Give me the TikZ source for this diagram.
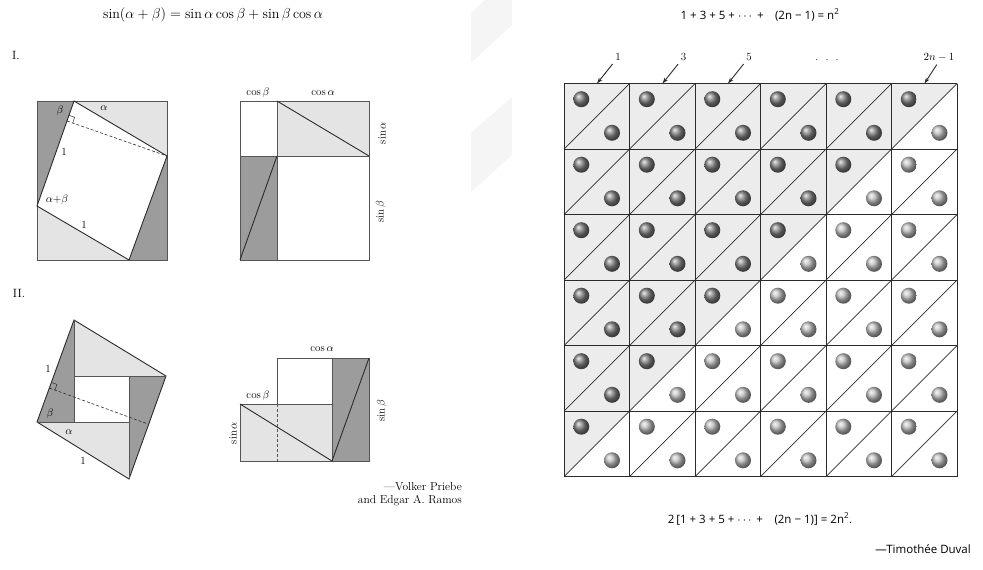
\documentclass[tikz,border=0pt]{standalone}
\usepackage{fontspec}
\usepackage{amsmath}
\usepackage{tikz}
\usetikzlibrary{arrows.meta, positioning}
\newfontfamily\sumfont{Open Sans}
\definecolor{ShadeDark}{HTML}{9C9C9C}
\definecolor{ShadePale}{HTML}{E4E4E4}
\definecolor{GridPale}{HTML}{ECECEC}
\definecolor{InkLine}{HTML}{2B2B2B}
\definecolor{FrameLine}{HTML}{555555}
\definecolor{Watermark}{HTML}{F5F5F5}

\begin{document}
\begin{tikzpicture}[x=1pt, y=-1pt,
  frame/.style={FrameLine, line width=0.9pt},
  rimline/.style={InkLine, line width=0.9pt},
  altitude/.style={InkLine, dash pattern=on 3pt off 2pt, line width=0.6pt},
  cellline/.style={InkLine, line width=0.7pt},
  pointer/.style={InkLine, line width=0.9pt, shorten <=4pt, -{Stealth[length=6pt, width=4pt]}},
  lbl/.style={inner sep=0pt, font=\fontsize{11}{13}\selectfont},
  toplbl/.style={inner sep=0pt, font=\fontsize{11}{13}\selectfont},
  sumtxt/.style={inner sep=0pt, font=\sumfont\fontsize{11.5}{13}\selectfont}]
  \useasboundingbox (0,0) rectangle (983,570);
  % Watermark
  \fill[Watermark] (471,13) -- (485,0) -- (512,0) -- (512,25) -- (471,63) -- cycle;
  \fill[Watermark] (471,133) -- (512,97) -- (512,155) -- (471,192) -- cycle;

  % Title and part labels
  \node[lbl, font=\fontsize{14}{16}\selectfont] (sinsum) at (213,15)
    {$\sin(\alpha+\beta)=\sin\alpha\cos\beta+\sin\beta\cos\alpha$};
  \node[lbl, font=\fontsize{12}{14}\selectfont] (partone) at (16,55) {I.};
  \node[lbl, font=\fontsize{12}{14}\selectfont] (parttwo) at (19,293) {II.};

  % I. rhombus inside the rectangle
  \coordinate (ta) at (74,101);
  \coordinate (ra) at (167,156);
  \coordinate (ba) at (129,260);
  \coordinate (la) at (37,206);
  \fill[ShadeDark] (37,101) -- (ta) -- (la) -- cycle;
  \fill[ShadeDark] (ra) -- (167,260) -- (ba) -- cycle;
  \fill[ShadePale] (ta) -- (167,101) -- (ra) -- cycle;
  \fill[ShadePale] (la) -- (ba) -- (37,260) -- cycle;
  \draw[frame] (37,101) rectangle (167,260);
  \draw[rimline] (ta) -- (ra) -- (ba) -- (la) -- cycle;
  \coordinate (fa) at (67,121);
  \draw[altitude] (fa) -- (ra);
  \draw[InkLine, line width=0.5pt] (69,115.3) -- (74.6,117.3) -- (72.7,123);
  \node[lbl] (betaa) at (60,111) {$\beta$};
  \node[lbl] (alphaa) at (104,108) {$\alpha$};
  \node[lbl] (onea) at (64,152) {1};
  \node[lbl] (suma) at (57,200) {$\alpha{+}\beta$};
  \node[lbl] (oneb) at (84,225) {1};

  % I. rearranged rectangles
  \fill[ShadePale] (277,101) rectangle (369,156);
  \fill[ShadeDark] (240,156) rectangle (277,260);
  \draw[frame] (240,101) rectangle (369,260);
  \draw[frame] (277,101) -- (277,260);
  \draw[frame] (240,156) -- (369,156);
  \draw[rimline] (277,101) -- (369,156);
  \draw[rimline] (240,260) -- (277,156);
  \node[lbl] (cosba) at (258,93) {$\cos\beta$};
  \node[lbl] (cosaa) at (323,93) {$\cos\alpha$};
  \node[lbl, rotate=90] (sinaa) at (382,133) {$\sin\alpha$};
  \node[lbl, rotate=90] (sinba) at (381,212) {$\sin\beta$};

  % II. rhombus cut around a hole
  \coordinate (tb) at (74,320);
  \coordinate (rb) at (166,376);
  \coordinate (bb) at (129,479);
  \coordinate (lb) at (37,422);
  \fill[ShadeDark] (tb) -- (74,422) -- (lb) -- cycle;
  \fill[ShadeDark] (rb) -- (bb) -- (129,376) -- cycle;
  \fill[ShadePale] (tb) -- (rb) -- (74,376) -- cycle;
  \fill[ShadePale] (lb) -- (bb) -- (129,422) -- cycle;
  \draw[rimline] (tb) -- (rb) -- (bb) -- (lb) -- cycle;
  \draw[frame] (tb) -- (74,422);
  \draw[frame] (74,376) -- (rb);
  \draw[frame] (129,376) -- (129,479);
  \draw[frame] (lb) -- (129,422);
  \draw[altitude] (49.3,388) -- (148,424);
  \draw[InkLine, line width=0.5pt] (51.4,382.4) -- (57,384.4) -- (54.9,390);
  \node[lbl] (onec) at (48,369) {1};
  \node[lbl] (betab) at (50,414) {$\beta$};
  \node[lbl] (alphab) at (69,432) {$\alpha$};
  \node[lbl] (oned) at (83,461) {1};

  % II. rearranged rectangles
  \fill[ShadeDark] (332,358) rectangle (369,461);
  \fill[ShadePale] (240,404) rectangle (332,461);
  \draw[frame] (277,358) rectangle (332,404);
  \draw[frame] (332,358) rectangle (369,461);
  \draw[frame] (240,404) rectangle (332,461);
  \draw[rimline] (332,461) -- (369,358);
  \draw[rimline] (240,404) -- (332,461);
  \draw[altitude, FrameLine] (277,404) -- (277,461);
  \node[lbl] (cosab) at (322,349) {$\cos\alpha$};
  \node[lbl] (cosbb) at (258,396) {$\cos\beta$};
  \node[lbl, rotate=90] (sinab) at (233,433) {$\sin\alpha$};
  \node[lbl, rotate=90] (sinbb) at (382,411) {$\sin\beta$};

  \node[lbl, anchor=east, font=\fontsize{11.5}{13}\selectfont] (authora) at (462,487) {---Volker Priebe};
  \node[lbl, anchor=east, font=\fontsize{11.5}{13}\selectfont] (authorb) at (462,501) {and Edgar A. Ramos};

  % Right: odd numbers as triangles
  \node[sumtxt] (oddsum) at (760,15)
    {1 + 3 + 5 + $\cdots$ +\quad(2n − 1) = n\textsuperscript{2}};
  \fill[GridPale] (564,83.5) -- (957,83.5) -- (564,476.5) -- cycle;
  \foreach \c in {0,...,5}{
    \foreach \r in {0,...,5}{
      \draw[cellline] (564+65.5*\c,149+65.5*\r) -- (629.5+65.5*\c,83.5+65.5*\r);
      \ifnum\numexpr\c+\r\relax<6 \def\upcol{black!50}\else\def\upcol{black!25}\fi
      \ifnum\numexpr\c+\r\relax<5 \def\lowcol{black!50}\else\def\lowcol{black!25}\fi
      \shade[ball color=\upcol] (581.3+65.5*\c,99.2+65.5*\r) circle[radius=8];
      \shade[ball color=\lowcol] (612+65.5*\c,132.8+65.5*\r) circle[radius=8];
    }
  }
  \foreach \k in {0,...,6}{
    \draw[cellline] (564+65.5*\k,83.5) -- (564+65.5*\k,476.5);
    \draw[cellline] (564,83.5+65.5*\k) -- (957,83.5+65.5*\k);
  }
  % Column labels
  \coordinate (tipa) at (597,83.5);
  \coordinate (tipb) at (662.5,83.5);
  \coordinate (tipc) at (728,83.5);
  \coordinate (tipn) at (924.5,83.5);
  \node[toplbl] (laba) at (618,57) {1};
  \node[toplbl] (labb) at (683.5,57) {3};
  \node[toplbl] (labc) at (749,57) {5};
  \node[toplbl] (labdots) at (827,60) {.\ \ .\ \ .};
  \node[toplbl] (labn) at (939,57) {$2n-1$};
  \draw[pointer] (laba.south west) -- (tipa);
  \draw[pointer] (labb.south west) -- (tipb);
  \draw[pointer] (labc.south west) -- (tipc);
  \draw[pointer] (labn.south) -- (tipn);

  \node[sumtxt] (doublesum) at (760,519)
    {2\,[1 + 3 + 5 + $\cdots$ +\quad(2n − 1)] = 2n\textsuperscript{2}.};
  \node[sumtxt, anchor=east] (authorc) at (971,549) {—Timothée Duval};
\end{tikzpicture}
\end{document}
